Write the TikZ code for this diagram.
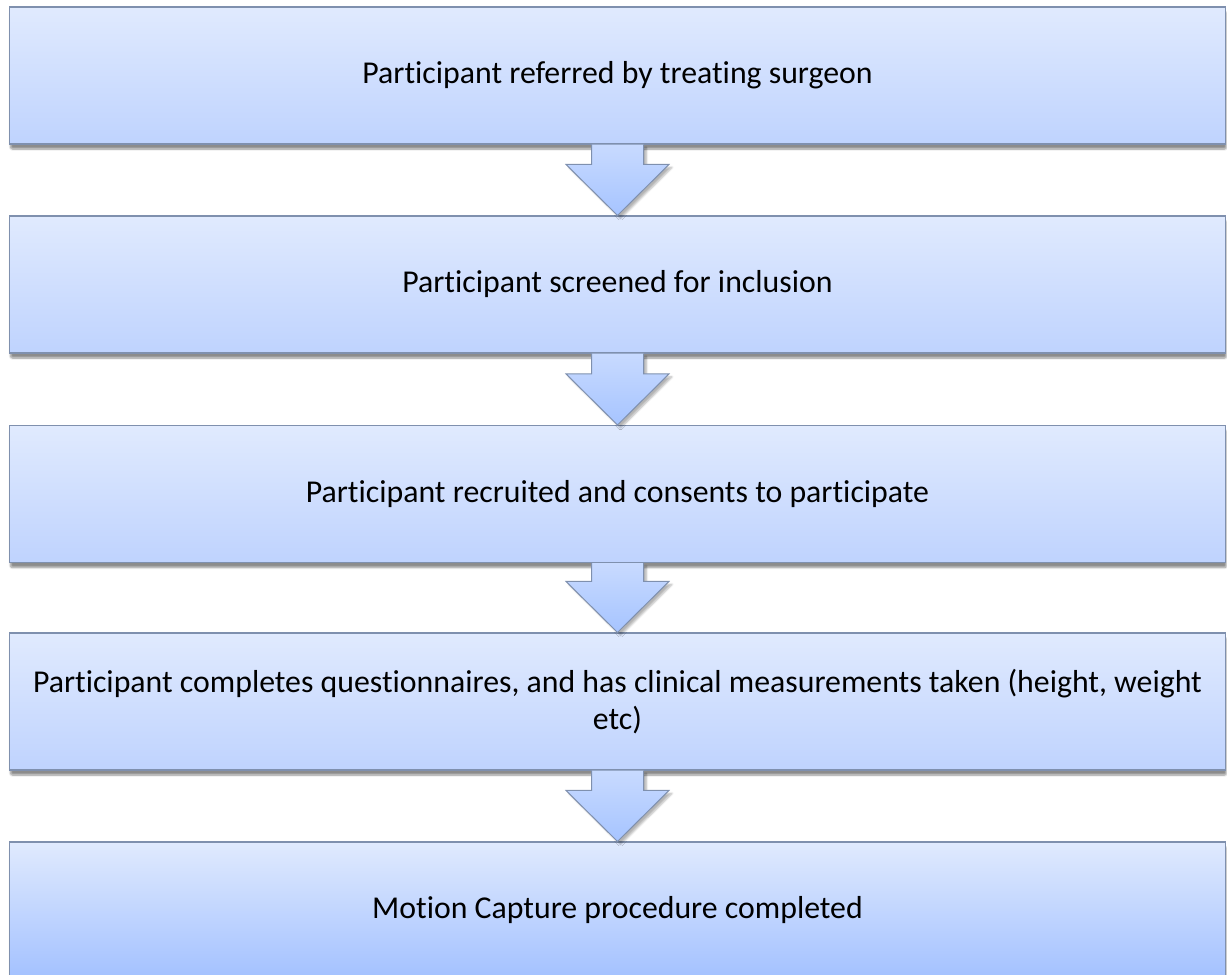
\documentclass[tikz,border=0pt]{standalone}
\usepackage{fontspec}
\setmainfont[Ligatures={NoCommon}]{Carlito}
\usetikzlibrary{calc,shadows.blur}
\definecolor{boxtop}{HTML}{E0EAFE}
\definecolor{boxbot}{HTML}{BFD3FE}
\definecolor{boxbotlast}{HTML}{A3C1FF}
\definecolor{edgecol}{HTML}{7F90AE}
\definecolor{arrtop}{HTML}{C8DAFF}
\definecolor{arrbot}{HTML}{A6C4FF}
\tikzset{
  stepbox/.style={rectangle, draw=edgecol, line width=1.1pt,
    top color=boxtop, bottom color=boxbot,
    minimum width=1216pt, minimum height=137pt, inner sep=0pt,
    align=center, font=\fontsize{31.8}{37}\selectfont,
    blur shadow={shadow xshift=1pt, shadow yshift=-5pt, shadow blur steps=8, shadow blur extra rounding=2pt, shadow opacity=45}},
  arrowfill/.style={top color=arrtop, bottom color=arrbot, draw=none},
  arrowedge/.style={draw=edgecol, line width=1pt, line join=miter},
}
\newcommand{\blockarrow}[2]{%
  \path[arrowfill, blur shadow={shadow xshift=3pt, shadow yshift=-3pt, shadow blur steps=6, shadow opacity=30}]
    let \p1=(#1.south), \p2=(#2.north) in
    (\x1-26pt,\y1) -- (\x1-26pt,\y2+51pt) -- (\x1-51.5pt,\y2+51pt) -- (\x1,\y2)
    -- (\x1+51.5pt,\y2+51pt) -- (\x1+26pt,\y2+51pt) -- (\x1+26pt,\y1) -- cycle;
  \draw[arrowedge]
    let \p1=(#1.south), \p2=(#2.north) in
    (\x1-26pt,\y1) -- (\x1-26pt,\y2+51pt) -- (\x1-51.5pt,\y2+51pt) -- (\x1,\y2)
    -- (\x1+51.5pt,\y2+51pt) -- (\x1+26pt,\y2+51pt) -- (\x1+26pt,\y1);
}
\begin{document}
\begin{tikzpicture}[x=1pt,y=-1pt]
\useasboundingbox (0,0) rectangle (1227,975);
\begin{scope}
\clip (0,0) rectangle (1227,975);
\node[stepbox] (b1) at (617.5,75.5) {Participant referred by treating surgeon};
\node[stepbox] (b2) at (617.5,284.5) {Participant screened for inclusion};
\node[stepbox] (b3) at (617.5,494) {Participant recruited and consents to participate};
\node[stepbox] (b4) at (617.5,701.5) {Participant completes questionnaires, and has clinical measurements taken (height, weight\\etc)};
\node[stepbox, bottom color=boxbotlast] (b5) at (617.5,910.5) {Motion Capture procedure completed};
\blockarrow{b1}{b2}
\blockarrow{b2}{b3}
\blockarrow{b3}{b4}
\blockarrow{b4}{b5}
\end{scope}
\end{tikzpicture}
\end{document}
